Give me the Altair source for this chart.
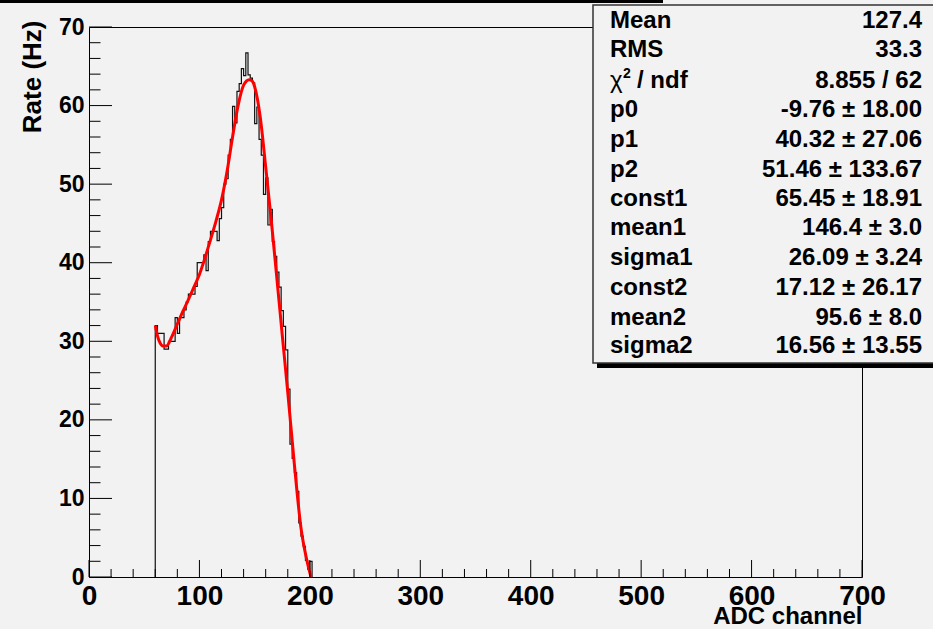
import altair as alt
import pandas as pd

# ---------------- data ----------------
bin_start = 60      # lower edge of first filled bin (ADC channel)
bin_width = 2       # ADC channels per bin
rate = [32, 31, 31, 31, 29, 29, 30, 30, 30, 33,
        31, 33, 33, 34, 35, 36, 36, 36, 37, 40,
        40, 40, 41, 39, 42.7, 44, 44, 44, 42.8, 45.6,
        47, 50, 50.7, 53.7, 55.7, 59.9, 57.8, 61.8, 62.8, 64.7,
        63.8, 66.7, 63.9, 63.5, 62.9, 57.7, 59.8, 55.7, 53.7, 48.7,
        50.8, 44.8, 46.8, 42.7, 40.8, 38.8, 36.9, 33.9, 31.9, 28.9,
        23.9, 16.9, 15.1, 13.3, 10.9, 6.9, 5.2, 3.9, 2.1, 1.0,
        2.0]

fit_adc = [60, 62, 64, 67, 70, 75, 80, 85, 90, 95, 100, 105, 110, 115, 120,
           125, 130, 135, 140, 145, 148, 150, 155, 160, 165, 170, 175, 180,
           186, 192, 197, 201]
fit_rate = [32, 30.7, 29.9, 29.4, 29.4, 30.6, 32.2, 33.8, 35.3, 36.9, 38.5,
            40.6, 42.9, 45.3, 48.0, 51.6, 56.0, 60.0, 62.6, 63.3, 63.1, 62.4,
            58.6, 52.2, 45.5, 38.2, 30.8, 23.5, 14.3, 6.2, 2.3, 0]

x_major = [0, 100, 200, 300, 400, 500, 600, 700]
x_minor = [v for v in range(0, 701, 20) if v % 100 != 0]
y_major = [0, 10, 20, 30, 40, 50, 60, 70]
y_minor = [v for v in range(0, 71, 2) if v % 10 != 0]

stat_names = ["Mean", "RMS", "chi", "p0", "p1", "p2", "const1", "mean1",
              "sigma1", "const2", "mean2", "sigma2"]
stat_values = ["127.4", "33.3", "8.855 / 62", "-9.76 \u00b1 18.00",
               "40.32 \u00b1 27.06", "51.46 \u00b1 133.67", "65.45 \u00b1 18.91",
               "146.4 \u00b1 3.0", "26.09 \u00b1 3.24", "17.12 \u00b1 26.17",
               "95.6 \u00b1 8.0", "16.56 \u00b1 13.55"]

# ---------------- layout ----------------
F = "Liberation Sans"
W, H = 773, 550
L, T = 89, 27
BG = "#f2f2f2"

rows = [{"i": 0, "adc": bin_start, "rate": 0}]
for k, v in enumerate(rate):
    rows.append({"i": k + 1, "adc": bin_start + k * bin_width, "rate": v})
rows.append({"i": len(rate) + 1, "adc": bin_start + len(rate) * bin_width, "rate": 0})
hist_df = pd.DataFrame(rows)
fit_df = pd.DataFrame({"adc": fit_adc, "rate": fit_rate})

xs = alt.Scale(domain=[0, 700], nice=False, zero=False)
ys = alt.Scale(domain=[0, 70], nice=False, zero=False)

hist = alt.Chart(hist_df).mark_line(
    interpolate="step-after", color="#111111", strokeWidth=1.2
).encode(
    x=alt.X("adc:Q", scale=xs, axis=alt.Axis(
        values=x_major, ticks=False, domain=False, grid=False,
        labelFont=F, labelFontSize=28, labelFontWeight="bold", labelColor="black",
        labelPadding=5, labelFlush=False, labelOverlap=False,
        title="ADC channel", titleFont=F, titleFontSize=24, titleFontWeight="bold",
        titleColor="black", titleAlign="right", titleX=W, titleY=46,
        titleBaseline="alphabetic")),
    y=alt.Y("rate:Q", scale=ys, axis=alt.Axis(
        values=y_major, ticks=False, domain=False, grid=False,
        labelFont=F, labelFontSize=23, labelFontWeight="bold", labelColor="black",
        labelPadding=5, labelFlush=False, labelOverlap=False,
        title="Rate (Hz)", titleFont=F, titleFontSize=26, titleFontWeight="bold",
        titleColor="black", titleAngle=270, titleAlign="right",
        titleX=-49, titleY=-7, titleBaseline="alphabetic")),
    order=alt.Order("i:Q"),
)

fit = alt.Chart(fit_df).mark_line(
    interpolate="monotone", color="#ff0000", strokeWidth=3
).encode(x=alt.X("adc:Q", scale=xs), y=alt.Y("rate:Q", scale=ys))

def xticks(vals, length):
    return alt.Chart(pd.DataFrame({"v": vals})).mark_rule(
        color="black", strokeWidth=1
    ).encode(x=alt.X("v:Q", scale=xs), y=alt.value(H), y2=alt.value(H - length))

def yticks(vals, length):
    return alt.Chart(pd.DataFrame({"v": vals})).mark_rule(
        color="black", strokeWidth=1
    ).encode(y=alt.Y("v:Q", scale=ys), x=alt.value(0), x2=alt.value(length))

one = pd.DataFrame({"a": [0]})

def rect(x0, x1, y0, y1, fill, stroke=None, sw=0):
    kw = {"fill": fill}
    if stroke:
        kw["stroke"] = stroke
        kw["strokeWidth"] = sw
    return alt.Chart(one).mark_rect(**kw).encode(
        x=alt.value(x0 - L), x2=alt.value(x1 - L),
        y=alt.value(y0 - T), y2=alt.value(y1 - T))

def txt(s, x, y, size=24, align="left", weight="bold"):
    return alt.Chart(one).mark_text(
        align=align, baseline="alphabetic", font=F, fontSize=size,
        fontWeight=weight, color="black"
    ).encode(x=alt.value(x - L), y=alt.value(y - T), text=alt.value(s))

layers = [hist, fit,
          xticks(x_major, 17), xticks(x_minor, 8),
          yticks(y_major, 23), yticks(y_minor, 11.5),
          rect(0, 663, 0, 3, "black"),
          rect(597, 945, 362, 368, "black"),
          rect(593, 945, 5, 363, BG, "#333333", 1.5)]

baselines = [28, 57, 88, 117, 147, 177, 206, 235, 265, 295, 325, 353]
for name, val, b in zip(stat_names, stat_values, baselines):
    if name == "chi":
        layers.append(txt("\u03c7", 610, b, size=24, weight="normal"))
        layers.append(txt("2", 623, b - 10, size=14))
        layers.append(txt("/ ndf", 637, b))
    else:
        layers.append(txt(name, 610, b))
    layers.append(txt(val, 922, b, align="right"))

chart = alt.layer(*layers).properties(
    width=W, height=H, background=BG,
    padding={"left": L, "top": T, "right": 933 - L - W, "bottom": 629 - T - H},
    autosize=alt.AutoSizeParams(type="none"),
).configure_view(stroke="black", strokeWidth=1)

chart.save("out.html", embed_options={"renderer": "svg", "actions": False})
